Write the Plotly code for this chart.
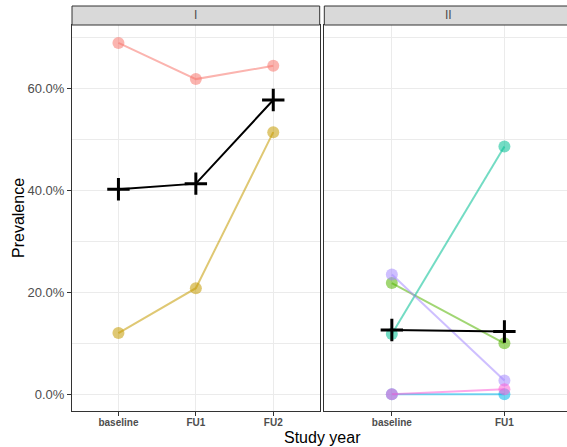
import plotly.graph_objects as go

# ---- data ----
waves_I = ["baseline", "FU1", "FU2"]
waves_II = ["baseline", "FU1"]

red_I = [0.689, 0.618, 0.644]
yellow_I = [0.120, 0.208, 0.514]
mean_I = [0.402, 0.413, 0.577]

green_II = [0.218, 0.100]
teal_II = [0.118, 0.486]
blue_II = [0.0, 0.0]
lavender_II = [0.235, 0.027]
pink_II = [0.0, 0.010]
mean_II = [0.126, 0.123]

panel_labels = ["I", "II"]
y_ticks = [0.0, 0.2, 0.4, 0.6]

W, H = 567, 447
A = 0.55


def rgba(hexc, a=A):
    hexc = hexc.lstrip("#")
    r, g, b = int(hexc[0:2], 16), int(hexc[2:4], 16), int(hexc[4:6], 16)
    return f"rgba({r},{g},{b},{a})"


fig = go.Figure()


def group(x, y, col, xa, ya):
    fig.add_trace(go.Scatter(
        x=x, y=y, mode="lines+markers", xaxis=xa, yaxis=ya,
        line=dict(color=rgba(col), width=2),
        marker=dict(color=rgba(col), size=12, line=dict(width=0)),
        showlegend=False, hoverinfo="skip"))


def mean(x, y, xa, ya):
    fig.add_trace(go.Scatter(
        x=x, y=y, mode="lines+markers", xaxis=xa, yaxis=ya,
        line=dict(color="black", width=2),
        marker=dict(symbol="cross-thin", size=16, color="black",
                    line=dict(color="black", width=3)),
        showlegend=False, hoverinfo="skip"))


group(waves_I, red_I, "#F8766D", "x", "y")
group(waves_I, yellow_I, "#C49A00", "x", "y")
mean(waves_I, mean_I, "x", "y")

group(waves_II, green_II, "#53B400", "x2", "y2")
group(waves_II, teal_II, "#00C094", "x2", "y2")
group(waves_II, blue_II, "#00B6EB", "x2", "y2")
group(waves_II, lavender_II, "#A58AFF", "x2", "y2")
group(waves_II, pink_II, "#FB61D7", "x2", "y2")
mean(waves_II, mean_II, "x2", "y2")

# pixel geometry
p1_l, p1_r = 72.0, 319.7
p2_l = 324.3
top, bot = 25.0, 411.0
yd = [(H - bot) / H, (H - top) / H]
yrange = [-0.0328, 0.7241]

grid = "#EBEBEB"
frame = "#333333"
tickfont_x = dict(family="Liberation Sans, Arial", size=10, color="#4D4D4D")

common_x = dict(type="category", showgrid=True, gridcolor=grid, gridwidth=1,
                ticks="outside", ticklen=4, tickcolor=frame, tickwidth=1,
                tickfont=tickfont_x, showline=True, linecolor=frame, linewidth=1,
                zeroline=False, fixedrange=True, ticklabelstandoff=-2)

fig.update_layout(
    width=W, height=H, margin=dict(l=0, r=0, t=0, b=0),
    paper_bgcolor="white", plot_bgcolor="white",
    font=dict(family="Liberation Sans, Arial", color="black"),
    xaxis=dict(domain=[p1_l / W, p1_r / W], range=[-0.6, 2.6], mirror=True,
               categoryorder="array", categoryarray=waves_I,
               tickprefix="<b>", ticksuffix="</b>", **common_x),
    xaxis2=dict(domain=[p2_l / W, 1.0], range=[-0.6, 1.556], mirror=True,
                categoryorder="array", categoryarray=waves_II,
                tickprefix="<b>", ticksuffix="</b>", anchor="y2", **common_x),
    yaxis=dict(domain=yd, range=yrange, tickvals=y_ticks, tickformat=".1%",
               showgrid=True, gridcolor=grid, gridwidth=1,
               minor=dict(tickvals=[0.1, 0.3, 0.5, 0.7], showgrid=True,
                          gridcolor=grid, gridwidth=0.6, ticks=""),
               ticks="outside", ticklen=4, tickcolor=frame,
               tickfont=dict(family="Liberation Sans, Arial", size=13, color="#4D4D4D"),
               showline=True, linecolor=frame, linewidth=1, mirror=True,
               zeroline=False, fixedrange=True),
    yaxis2=dict(domain=yd, range=yrange, anchor="x2", tickvals=y_ticks,
                showticklabels=False, showgrid=True, gridcolor=grid, gridwidth=1,
                minor=dict(tickvals=[0.1, 0.3, 0.5, 0.7], showgrid=True,
                           gridcolor=grid, gridwidth=0.6, ticks=""),
                ticks="", showline=True, linecolor=frame, linewidth=1, mirror=False,
                zeroline=False, fixedrange=True),
)

# strips
s_top, s_bot = 6.0, 25.0
for (l, r), lab in zip([(p1_l, p1_r), (p2_l, W + 10)], panel_labels):
    fig.add_shape(type="rect", xref="paper", yref="paper",
                  x0=l / W, x1=r / W, y0=(H - s_bot) / H, y1=(H - s_top) / H,
                  fillcolor="#D9D9D9", line=dict(color=frame, width=1), layer="above")
for (l, r), lab in zip([(p1_l, p1_r), (p2_l, 572.0)], panel_labels):
    fig.add_annotation(xref="paper", yref="paper", x=(l + r) / 2 / W,
                       y=(H - (s_top + s_bot) / 2) / H, text=lab, showarrow=False,
                       xanchor="center", yanchor="middle",
                       font=dict(size=12, color="#4D4D4D", family="Liberation Sans, Arial"))

# axis titles
fig.add_annotation(xref="paper", yref="paper", x=322.0 / W, y=(H - 437) / H,
                   text="Study year", showarrow=False, xanchor="center", yanchor="middle",
                   font=dict(size=16, color="black"))
fig.add_annotation(xref="paper", yref="paper", x=18.0 / W, y=(H - 218) / H,
                   text="Prevalence", showarrow=False, textangle=-90,
                   xanchor="center", yanchor="middle",
                   font=dict(size=16, color="black"))

fig.write_html("out.html")
